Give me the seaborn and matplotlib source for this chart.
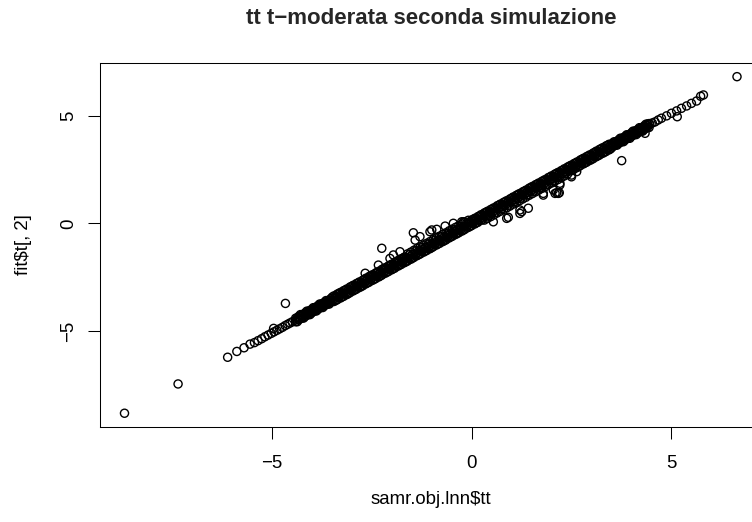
import numpy as np
import pandas as pd
import matplotlib
matplotlib.use("Agg")
import matplotlib.pyplot as plt
import seaborn as sns


# Dense band of the scatter (3 lanes sharing x)
band_x = [-4.40, -4.32, -4.24, -4.16, -4.08, -4.00, -3.92, -3.84, -3.76, -3.68, -3.60, -3.52,
          -3.44, -3.36, -3.28, -3.20, -3.12, -3.04, -2.96, -2.88, -2.80, -2.72, -2.64, -2.56,
          -2.48, -2.40, -2.32, -2.24, -2.16, -2.08, -2.00, -1.92, -1.84, -1.76, -1.68,
          -1.60, -1.52, -1.44, -1.36, -1.28, -1.20, -1.12, -1.04, -0.96, -0.88, -0.80, -0.72,
          -0.64, -0.56, -0.48, -0.40, -0.32, -0.24, -0.16, -0.08,
          0.00, 0.08, 0.16, 0.24, 0.32, 0.40, 0.48, 0.56, 0.64, 0.72, 0.80, 0.88, 0.96, 1.04,
          1.12, 1.20, 1.28, 1.36, 1.44, 1.52, 1.60, 1.68, 1.76, 1.84, 1.92, 2.00, 2.08, 2.16,
          2.24, 2.32, 2.40, 2.48, 2.56, 2.64, 2.72, 2.80, 2.88, 2.96, 3.04, 3.12, 3.20, 3.28,
          3.36, 3.44,
          3.52, 3.60, 3.68, 3.76, 3.84, 3.92, 4.00, 4.08, 4.16, 4.24, 4.32, 4.40]
band_mid = [-4.49, -4.40, -4.32, -4.24, -4.16, -4.08, -3.99, -3.91, -3.83, -3.75, -3.67, -3.58,
            -3.50, -3.42, -3.34, -3.26, -3.18, -3.09, -3.01, -2.93, -2.85, -2.77, -2.68, -2.60,
            -2.52, -2.44, -2.36, -2.27, -2.19, -2.11, -2.03, -1.95, -1.86, -1.78, -1.70,
            -1.62, -1.54, -1.45, -1.37, -1.29, -1.21, -1.13, -1.05, -0.96, -0.88, -0.80, -0.72,
            -0.64, -0.55, -0.47, -0.39, -0.31, -0.23, -0.14, -0.06,
            0.02, 0.10, 0.18, 0.27, 0.35, 0.43, 0.51, 0.59, 0.68, 0.76, 0.84, 0.92, 1.00, 1.09,
            1.17, 1.25, 1.33, 1.41, 1.50, 1.58, 1.66, 1.74, 1.82, 1.90, 1.99, 2.07, 2.15, 2.23,
            2.31, 2.40, 2.48, 2.56, 2.64, 2.72, 2.81, 2.89, 2.97, 3.05, 3.13, 3.22, 3.30, 3.38,
            3.46, 3.54,
            3.62, 3.71, 3.79, 3.87, 3.95, 4.03, 4.12, 4.20, 4.28, 4.36, 4.44, 4.53]
band_hi = [-4.41, -4.32, -4.24, -4.16, -4.08, -4.00, -3.91, -3.83, -3.75, -3.67, -3.59, -3.50,
           -3.37, -3.29, -3.21, -3.13, -3.05, -2.96, -2.88, -2.80, -2.72, -2.64, -2.55, -2.47,
           -2.39, -2.31, -2.23, -2.14, -2.06, -1.98, -1.90, -1.82, -1.73, -1.65, -1.57,
           -1.42, -1.34, -1.25, -1.17, -1.09, -1.01, -0.93, -0.85, -0.76, -0.68, -0.60, -0.52,
           -0.44, -0.35, -0.27, -0.19, -0.11, -0.03, 0.06, 0.14,
           0.15, 0.23, 0.31, 0.40, 0.48, 0.56, 0.64, 0.72, 0.81, 0.89, 0.97, 1.05, 1.13, 1.22,
           1.30, 1.38, 1.46, 1.54, 1.63, 1.71, 1.79, 1.87, 1.95, 2.03, 2.12, 2.20, 2.28, 2.36,
           2.44, 2.53, 2.61, 2.69, 2.77, 2.85, 2.94, 3.02, 3.10, 3.18, 3.26, 3.35, 3.43, 3.51,
           3.59, 3.67,
           3.70, 3.79, 3.87, 3.95, 4.03, 4.11, 4.20, 4.28, 4.36, 4.44, 4.52, 4.61]
band_lo = [-4.57, -4.48, -4.40, -4.32, -4.24, -4.16, -4.07, -3.99, -3.91, -3.83, -3.75, -3.66,
           -3.63, -3.55, -3.47, -3.39, -3.31, -3.22, -3.14, -3.06, -2.98, -2.90, -2.81, -2.73,
           -2.65, -2.57, -2.49, -2.40, -2.32, -2.24, -2.16, -2.08, -1.99, -1.91, -1.83,
           -1.75, -1.67, -1.58, -1.50, -1.42, -1.34, -1.26, -1.18, -1.09, -1.01, -0.93, -0.85,
           -0.77, -0.68, -0.60, -0.52, -0.44, -0.36, -0.27, -0.19,
           -0.11, -0.03, 0.05, 0.14, 0.15, 0.23, 0.31, 0.39, 0.48, 0.56, 0.64, 0.72, 0.80, 0.89,
           0.97, 1.05, 1.13, 1.21, 1.30, 1.38, 1.46, 1.54, 1.62, 1.70, 1.79, 1.87, 1.95, 2.03,
           2.11, 2.20, 2.28, 2.43, 2.51, 2.59, 2.68, 2.76, 2.84, 2.92, 3.00, 3.09, 3.17, 3.25,
           3.33, 3.41,
           3.54, 3.63, 3.71, 3.79, 3.87, 3.95, 4.04, 4.12, 4.20, 4.28, 4.36, 4.45]

# two more lanes, between the x positions of the first three
band2_x = [-4.36, -4.28, -4.20, -4.12, -4.04, -3.96, -3.88, -3.80, -3.72, -3.64, -3.56, -3.48,
           -3.40, -3.32, -3.24, -3.16, -3.08, -3.00, -2.92, -2.84, -2.76, -2.68, -2.60, -2.52,
           -2.44, -2.36, -2.28, -2.20, -2.12, -2.04, -1.96, -1.88, -1.80, -1.72, -1.64,
           -1.56, -1.48, -1.40, -1.32, -1.24, -1.16, -1.08, -1.00, -0.92, -0.84, -0.76, -0.68,
           -0.60, -0.52, -0.44, -0.36, -0.28, -0.20, -0.12, -0.04,
           0.04, 0.12, 0.20, 0.28, 0.36, 0.44, 0.52, 0.60, 0.68, 0.76, 0.84, 0.92, 1.00, 1.08,
           1.16, 1.24, 1.32, 1.40, 1.48, 1.56, 1.64, 1.72, 1.80, 1.88, 1.96, 2.04, 2.12, 2.20,
           2.28, 2.36, 2.44, 2.52, 2.60, 2.68, 2.76, 2.84, 2.92, 3.00, 3.08, 3.16, 3.24, 3.32,
           3.40, 3.48,
           3.56, 3.64, 3.72, 3.80, 3.88, 3.96, 4.04, 4.12, 4.20, 4.28, 4.36, 4.44]
band2_y = [-4.39, -4.42, -4.22, -4.26, -4.06, -4.10, -3.89, -3.93, -3.73, -3.77, -3.57, -3.60,
           -3.40, -3.44, -3.24, -3.28, -3.08, -3.11, -2.91, -2.95, -2.75, -2.79, -2.58, -2.62,
           -2.42, -2.46, -2.26, -2.29, -2.09, -2.13, -1.93, -1.97, -1.76, -1.80, -1.60,
           -1.64, -1.44, -1.47, -1.27, -1.31, -1.11, -1.15, -0.95, -0.98, -0.78, -0.82, -0.62,
           -0.66, -0.45, -0.49, -0.29, -0.33, -0.13, -0.16, 0.04,
           0.00, 0.20, 0.16, 0.37, 0.33, 0.53, 0.49, 0.69, 0.66, 0.86, 0.82, 1.02, 0.98, 1.19,
           1.15, 1.35, 1.31, 1.51, 1.48, 1.68, 1.64, 1.84, 1.80, 2.00, 1.97, 2.17, 2.13, 2.33,
           2.29, 2.50, 2.46, 2.66, 2.62, 2.82, 2.79, 2.99, 2.95, 3.15, 3.11, 3.32, 3.28, 3.48,
           3.44, 3.64,
           3.60, 3.81, 3.77, 3.97, 3.93, 4.13, 4.10, 4.30, 4.26, 4.46, 4.42, 4.63]
band3_y = [-4.57, -4.24, -4.40, -4.08, -4.24, -3.92, -4.07, -3.75, -3.91, -3.59, -3.75, -3.42,
           -3.58, -3.26, -3.42, -3.10, -3.26, -2.93, -3.09, -2.77, -2.93, -2.61, -2.76, -2.44,
           -2.60, -2.28, -2.44, -2.11, -2.27, -1.95, -2.11, -1.79, -1.94, -1.62, -1.78,
           -1.46, -1.62, -1.29, -1.45, -1.13, -1.29, -0.97, -1.13, -0.80, -0.96, -0.64, -0.80,
           -0.48, -0.63, -0.31, -0.47, -0.15, -0.31, 0.02, -0.14,
           0.18, 0.02, 0.34, 0.19, 0.51, 0.35, 0.67, 0.51, 0.84, 0.68, 1.00, 0.84, 1.16, 1.01,
           1.33, 1.17, 1.49, 1.33, 1.66, 1.50, 1.82, 1.66, 1.98, 1.82, 2.15, 1.99, 2.31, 2.15,
           2.47, 2.32, 2.64, 2.48, 2.80, 2.64, 2.97, 2.81, 3.13, 2.97, 3.29, 3.14, 3.46, 3.30,
           3.62, 3.46,
           3.78, 3.63, 3.95, 3.79, 4.11, 3.95, 4.28, 4.12, 4.44, 4.28, 4.60, 4.45]

# sparse ends of the band
left_x = [-6.10, -5.87, -5.69, -5.54, -5.43, -5.34, -5.25, -5.17, -5.09, -5.01, -4.95,
          -4.94, -4.87, -4.80, -4.73, -4.66, -4.60, -4.54, -4.48]
left_y = [-6.22, -5.95, -5.78, -5.61, -5.54, -5.45, -5.36, -5.27, -5.19, -5.11, -4.88,
          -5.04, -4.97, -4.90, -4.83, -4.75, -4.69, -4.63, -4.57]
right_x = [4.46, 4.52, 4.59, 4.67, 4.75, 4.88, 5.00, 5.13, 5.25, 5.38, 5.50, 5.63, 5.73, 5.80]
right_y = [4.60, 4.66, 4.71, 4.80, 4.88, 4.99, 5.11, 5.22, 5.34, 5.45, 5.57, 5.68, 5.90, 5.96]

# points away from the band
out_x = [-8.68, -7.34, -4.655, -2.66, -2.33, -2.245, -2.04, -1.955, -1.79, -1.455, -1.41,
         -1.29, -1.04, -0.995, -0.87, -0.66, -0.455, -0.245, -0.20,
         0.545, 0.88, 0.92, 1.21, 1.21, 1.255, 1.42, 1.795, 1.795, 2.045, 2.09, 2.13, 2.17,
         2.195, 2.21, 2.21, 2.50, 2.50, 2.63, 3.755, 4.34, 5.145, 6.64]
out_y = [-8.82, -7.46, -3.72, -2.32, -1.94, -1.16, -1.63, -1.47, -1.32, -0.44, -0.78,
         -0.62, -0.39, -0.31, -0.28, -0.13, 0.00, 0.07, 0.07,
         0.07, 0.23, 0.28, 0.46, 0.62, 0.54, 0.70, 1.39, 1.31, 1.55, 1.39, 1.42, 1.39,
         1.42, 1.78, 1.86, 2.16, 2.24, 2.40, 2.91, 4.18, 4.95, 6.81]

tt = band_x * 3 + band2_x * 2 + left_x + right_x + out_x
t2 = band_mid + band_hi + band_lo + band2_y + band3_y + left_y + right_y + out_y
df = pd.DataFrame({"tt": tt, "t2": t2})

sns.set_theme(style="white")
plt.rcParams["font.family"] = ["Liberation Sans", "DejaVu Sans"]

W, H = 752, 522
fig = plt.figure(figsize=(W / 100, H / 100), dpi=100)
ax = fig.add_axes([100 / W, (H - 426.7) / H, 661.5 / W, 363.5 / H])

sns.scatterplot(data=df, x="tt", y="t2", ax=ax, marker="o", s=34,
                fc="none", ec="black", linewidth=1.0, legend=False)

# R style limits: data range plus 4%
xr = df.tt.max() - df.tt.min()
yr = df.t2.max() - df.t2.min()
ax.set_xlim(df.tt.min() - 0.04 * xr, df.tt.max() + 0.04 * xr)
ax.set_ylim(df.t2.min() - 0.04 * yr, df.t2.max() + 0.04 * yr)

ax.set_xticks([-5, 0, 5])
ax.set_yticks([-5, 0, 5])
ax.tick_params(direction="out", length=8.4, width=0.75, colors="black",
               labelsize=13.4, pad=12, bottom=True, left=True)
ax.tick_params(axis="y", labelrotation=90, pad=8)
for lab in ax.get_yticklabels():
    lab.set_va("center")

for s in ax.spines.values():
    s.set_visible(True)
    s.set_color("black")
    s.set_linewidth(0.75)

ax.set_xlabel(r"samr.obj.lnn\$tt", fontsize=13.4, color="black", va="center")
ax.xaxis.set_label_coords(0.5, -(499 - 426.7) / 363.5)
ax.set_ylabel(r"fit\$t[, 2]", fontsize=13.4, color="black", va="center")
ax.yaxis.set_label_coords((24 - 100) / 661.5, 0.5)

fig.text(430.75 / W, 1 - 18.3 / H, "tt t\u2212moderata seconda simulazione",
         ha="center", va="center", fontsize=16, fontweight="bold")

fig.savefig("out.png", dpi=100)
